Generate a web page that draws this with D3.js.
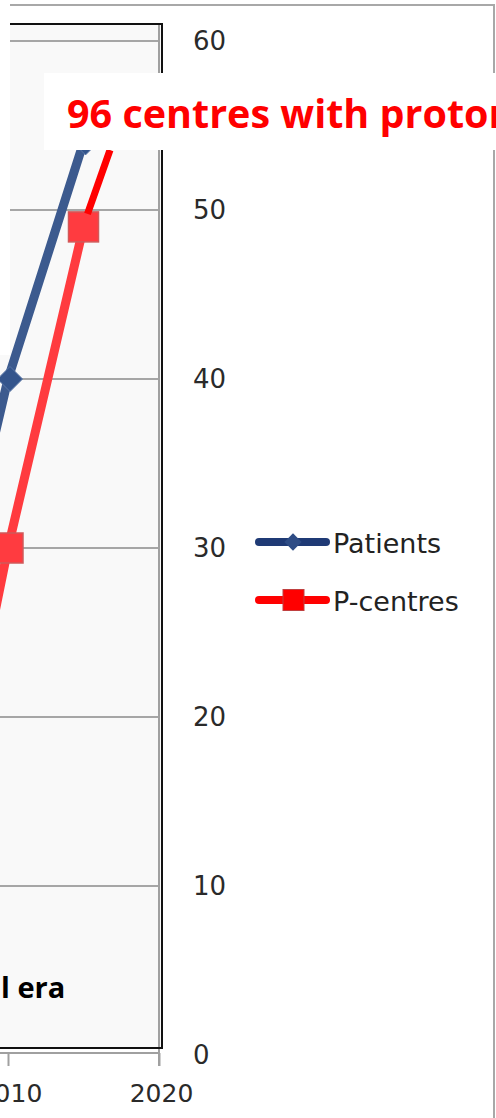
<!doctype html>
<html>
<head>
<meta charset="utf-8">
<script src="https://cdnjs.cloudflare.com/ajax/libs/d3/7.8.5/d3.min.js"></script>
<style>
  body { margin: 0; background: #fff; }
  svg { display: block; }
</style>
</head>
<body>
<div id="viz"></div>
<script>
// series values (2005 points only feed the clipped line ends)
var years = [2005, 2010, 2015];
var patients = [21, 40, 54];
var pCentres = [8, 30, 49];
var yTicks = [0, 10, 20, 30, 40, 50, 60];
var xTicks = [2010, 2020];
var seriesNames = ["Patients", "P-centres"];
var noteText = "96 centres with proton";
var eraText = "l era";

var W = 496, H = 1118;
var svg = d3.select("#viz").append("svg").attr("width", W).attr("height", H);

var x = d3.scaleLinear().domain([2010, 2020]).range([8, 159]);
var y = d3.scaleLinear().domain([0, 60]).range([1055, 41]);

// outer chart frame
svg.append("path")
  .attr("d", "M10,5 H494 V1118")
  .attr("fill", "none").attr("stroke", "#a8a8a8").attr("stroke-width", 2);

// plot area
svg.append("rect")
  .attr("x", -20).attr("y", 24).attr("width", 182).attr("height", 1024)
  .attr("fill", "#f9f9f9");

svg.append("g").selectAll("line")
  .data(yTicks.filter(function(d){ return d > 0; }))
  .enter().append("line")
  .attr("x1", 0).attr("x2", 159)
  .attr("y1", function(d){ return y(d); })
  .attr("y2", function(d){ return y(d); })
  .attr("stroke", "#a6a6a6").attr("stroke-width", 2);

// inner shadow edge + plot border
svg.append("line").attr("x1", 159).attr("x2", 159).attr("y1", 24).attr("y2", 1066)
  .attr("stroke", "#a0a0a0").attr("stroke-width", 2);
svg.append("path")
  .attr("d", "M0,24 H162 V1048 H0")
  .attr("fill", "none").attr("stroke", "#111").attr("stroke-width", 2);

// x axis
var xAxis = svg.append("g").attr("transform", "translate(0,1053)")
  .call(d3.axisBottom(x).tickValues(xTicks).tickFormat(d3.format("d")).tickSize(13).tickPadding(18));
xAxis.select(".domain").attr("stroke", "#a0a0a0").attr("stroke-width", 2).attr("d", "M-20,0H160");
xAxis.selectAll(".tick line").attr("stroke", "#a0a0a0").attr("stroke-width", 2);
xAxis.selectAll("text")
  .attr("font-family", "DejaVu Sans").attr("font-size", 25).attr("fill", "#2a2a2a")
  .attr("dx", 2);

// y axis labels (right side)
var yAxis = svg.append("g").attr("transform", "translate(193,0)")
  .call(d3.axisRight(y).tickValues(yTicks).tickSize(0).tickPadding(0));
yAxis.select(".domain").remove();
yAxis.selectAll("text")
  .attr("font-family", "DejaVu Sans").attr("font-size", 26).attr("fill", "#2a2a2a")
  .attr("text-anchor", "start");

// lines
var line = d3.line().x(function(d){ return x(d[0]); }).y(function(d){ return y(d[1]); });
var pData = years.map(function(yr, i){ return [yr, patients[i]]; });
var cData = years.map(function(yr, i){ return [yr, pCentres[i]]; });

svg.append("path").datum(pData).attr("d", line)
  .attr("fill", "none").attr("stroke", "#3c5a8e").attr("stroke-width", 9)
  .attr("stroke-linejoin", "round");
svg.append("g").selectAll("path").data(pData.slice(1)).enter().append("path")
  .attr("d", d3.symbol().type(d3.symbolDiamond2).size(400))
  .attr("transform", function(d){ return "translate(" + (x(d[0]) + 2) + "," + y(d[1]) + ")"; })
  .attr("fill", "#34558c").attr("stroke", "#5b77a6").attr("stroke-width", 1);

svg.append("path").datum(cData).attr("d", line)
  .attr("fill", "none").attr("stroke", "#ff3b3f").attr("stroke-width", 9)
  .attr("stroke-linejoin", "round");
svg.append("g").selectAll("rect").data(cData.slice(1)).enter().append("rect")
  .attr("x", function(d){ return x(d[0]) - 15; })
  .attr("y", function(d){ return y(d[1]) - 15; })
  .attr("width", 30).attr("height", 30)
  .attr("fill", "#ff3b40").attr("stroke", "#d05a5a").attr("stroke-width", 1.5);

// white strip over the top-left edge
svg.append("rect").attr("x", 0).attr("y", 0).attr("width", 10).attr("height", 355).attr("fill", "#fff");

// era caption
svg.append("text").attr("x", 1).attr("y", 998).attr("text-anchor", "start")
  .attr("font-family", "Open Sans").attr("font-weight", "bold").attr("font-size", 29)
  .attr("fill", "#000").text(eraText);

// callout
var last = cData[cData.length - 1];
svg.append("line")
  .attr("x1", x(last[0]) + 4).attr("y1", y(last[1]) - 13)
  .attr("x2", 110).attr("y2", 150)
  .attr("stroke", "#ff0000").attr("stroke-width", 7);
svg.append("rect").attr("x", 44).attr("y", 73).attr("width", 470).attr("height", 77).attr("fill", "#fff");
svg.append("text").attr("x", 67).attr("y", 128)
  .attr("font-family", "Open Sans").attr("font-weight", "bold").attr("font-size", 39.5)
  .attr("fill", "#ff0000").text(noteText);

// legend
var legend = svg.append("g").attr("transform", "translate(255,0)");
var legY = [542, 600];
var legCol = ["#1f3a75", "#ff0000"];
seriesNames.forEach(function(name, i){
  var g = legend.append("g").attr("transform", "translate(0," + legY[i] + ")");
  g.append("line").attr("x1", 4).attr("x2", 71)
    .attr("stroke", legCol[i]).attr("stroke-width", 8).attr("stroke-linecap", "round");
  if (i === 0) {
    g.append("path").attr("d", d3.symbol().type(d3.symbolDiamond2).size(190))
      .attr("transform", "translate(38,0)").attr("fill", "#2e4c85");
  } else {
    g.append("rect").attr("x", 28).attr("y", -10.5).attr("width", 21).attr("height", 21)
      .attr("fill", "#ff0000").attr("stroke", "#c04040").attr("stroke-width", 1);
  }
  g.append("text").attr("x", 78).attr("y", 11)
    .attr("font-family", "DejaVu Sans").attr("font-size", 27).attr("fill", "#222")
    .text(name);
});
</script>
</body>
</html>
